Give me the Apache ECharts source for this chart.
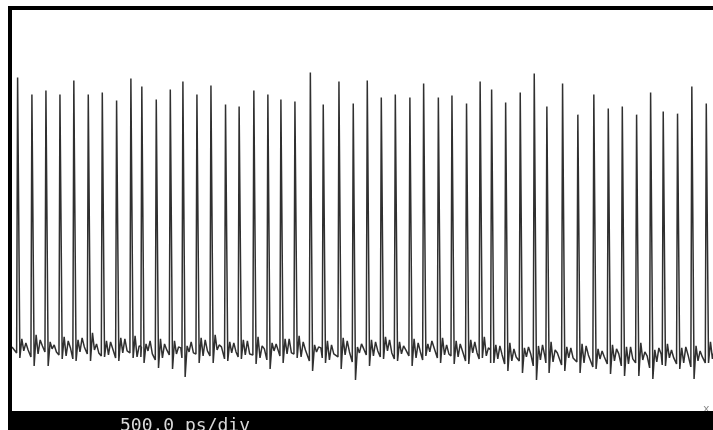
<!DOCTYPE html>
<html>
<head>
<meta charset="utf-8">
<script src="https://cdn.jsdelivr.net/npm/echarts@6/dist/echarts.min.js"></script>
<style>
html,body{margin:0;padding:0;background:#fff;}
#chart{width:713px;height:430px;}
</style>
</head>
<body>
<div id="chart"></div>
<script>
// Time of each pulse peak (ps), 500 ps/div, 10 divisions
var peakT = [43,145,245,345,444,547,647,749,851,929,1032,1132,1222,1322,1422,1526,1623,1728,1828,1921,2021,2131,2223,2335,2437,2537,2637,2737,2841,2939,3044,3141,3245,3342,3424,3524,3628,3728,3818,3930,4039,4153,4256,4356,4458,4558,4648,4750,4852,4955];
// Peak amplitude (mV)
var peakV = [133,116,120,116,130,116,118,110,132,124,111,121,129,116,125,106,104,120,116,111,109,138,106,129,107,130,113,116,113,127,113,115,107,129,121,108,118,137,104,127,96,116,102,104,96,118,99,97,124,107];
// Undershoot after each pulse (mV)
var dipV = [-147,-155,-155,-148,-150,-150,-146,-150,-147,-152,-157,-158,-166,-152,-152,-150,-148,-153,-158,-152,-147,-160,-152,-158,-169,-155,-148,-150,-155,-145,-152,-153,-153,-147,-152,-160,-162,-169,-162,-160,-162,-158,-163,-165,-165,-168,-155,-158,-168,-152];
// Baseline noise samples between pulses (mV)
var baseA = [-128,-124,-131,-126,-129,-122,-130,-127,-125,-133,-128,-130,-135,-127,-124,-131,-129,-126,-132,-128,-125,-134,-130,-127,-136,-129,-126,-131,-128,-133,-127,-130,-129,-126,-134,-132,-137,-135,-131,-136,-133,-138,-134,-136,-132,-139,-133,-137,-135,-131];
var baseB = [-140,-143,-138,-145,-141,-139,-144,-142,-146,-140,-147,-143,-141,-145,-139,-142,-144,-147,-140,-143,-146,-141,-149,-144,-142,-145,-140,-143,-147,-141,-144,-146,-142,-145,-148,-150,-146,-149,-151,-147,-152,-148,-150,-153,-149,-151,-147,-152,-150,-148];
var baseC = [-132,-129,-134,-130,-127,-133,-131,-128,-135,-130,-133,-136,-131,-129,-134,-132,-130,-135,-133,-128,-131,-136,-134,-130,-133,-131,-129,-135,-132,-130,-134,-133,-131,-137,-135,-138,-136,-134,-139,-137,-135,-140,-138,-136,-141,-137,-139,-136,-140,-138];
var baseD = [-139,-135,-141,-137,-136,-142,-138,-140,-136,-143,-139,-137,-142,-140,-136,-141,-143,-138,-140,-142,-139,-137,-143,-141,-138,-140,-142,-139,-141,-137,-143,-140,-142,-139,-144,-146,-143,-145,-142,-147,-144,-146,-143,-148,-145,-143,-147,-144,-146,-145];
var preV = [-142,-146,-141,-144,-148,-143,-145,-147,-142,-146,-149,-144,-147,-143,-145,-148,-146,-144,-149,-145,-143,-150,-147,-146,-151,-144,-146,-148,-145,-149,-147,-145,-150,-148,-152,-153,-150,-155,-152,-154,-151,-156,-153,-155,-152,-157,-154,-153,-156,-152];
var scaleLabel = '500.0 ps/div';

var trace = [[0, -136]];
for (var i = 0; i < peakT.length; i++) {
  var t = peakT[i];
  trace.push([t - 10, preV[i]]);
  trace.push([t - 3, peakV[i]]);
  trace.push([t + 4, peakV[i]]);
  trace.push([t + 13, dipV[i]]);
  trace.push([t + 27, baseA[i]]);
  trace.push([t + 41, baseB[i]]);
  trace.push([t + 56, baseC[i]]);
  trace.push([t + 72, baseD[i]]);
}

var chart = echarts.init(document.getElementById('chart'), null, {renderer: 'canvas'});
chart.setOption({
  animation: false,
  backgroundColor: '#ffffff',
  grid: {left: 12, right: 0, top: 10.5, bottom: 19, containLabel: false},
  xAxis: {type: 'value', min: 0, max: 5000, show: false},
  yAxis: {type: 'value', min: -200, max: 200, show: false},
  series: [{
    type: 'line',
    data: trace,
    showSymbol: false,
    symbol: 'none',
    clip: true,
    lineStyle: {color: '#303030', width: 1.5},
    z: 2
  }],
  graphic: [
    {type: 'rect', left: 8, top: 6, shape: {width: 4, height: 424}, style: {fill: '#000'}, z: 10},
    {type: 'rect', left: 8, top: 6, shape: {width: 705, height: 4}, style: {fill: '#000'}, z: 10},
    {type: 'rect', left: 8, top: 411, shape: {width: 705, height: 19}, style: {fill: '#000'}, z: 10},
    {type: 'text', left: 703, top: 404, style: {text: 'x', fill: '#888', font: '11px "DejaVu Sans Mono"'}, z: 9},
    {type: 'text', left: 120, top: 417, style: {text: scaleLabel, fill: '#d8d8d8', font: '18px "DejaVu Sans Mono"'}, z: 11}
  ]
});
</script>
</body>
</html>
